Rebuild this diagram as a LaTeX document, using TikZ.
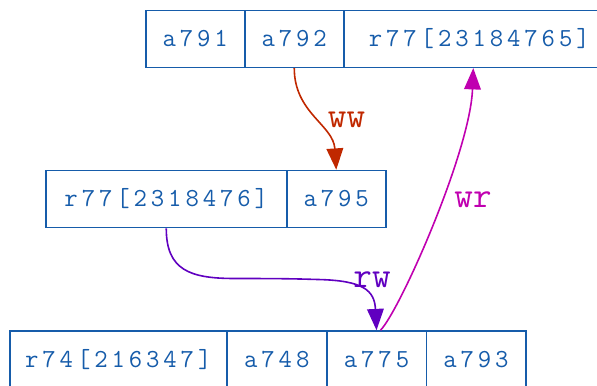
\documentclass[tikz,border=0pt]{standalone}
\usepackage{fontspec}
\usetikzlibrary{arrows.meta}
\newfontfamily\recfont[LetterSpace=15]{Latin Modern Mono}
\newfontfamily\lblfont{Latin Modern Mono}
\definecolor{recblue}{RGB}{22,92,170}
\definecolor{wwcol}{RGB}{192,40,0}
\definecolor{wrcol}{RGB}{192,0,176}
\definecolor{rwcol}{RGB}{96,0,192}
\tikzset{
  field/.style={draw=recblue, line width=1.15pt, anchor=west, inner sep=0pt,
    minimum height=42.75pt, minimum width=#1*0.75pt,
    text=recblue, font=\recfont\fontsize{19.5pt}{21pt}\selectfont,
    text height=11.5pt, text depth=0pt},
  dep/.style={line width=1.2pt, draw=#1,
    -{Triangle[length=16pt,width=12.5pt,fill=#1]}},
  lbl/.style={anchor=base, inner sep=0pt, text=#1,
    font=\lblfont\fontsize{27pt}{29pt}\selectfont}
}
\begin{document}
\begin{tikzpicture}[x=0.75pt,y=-0.75pt]
\useasboundingbox (0,0) rectangle (597,386);

% upper record
\node[field=99]  (f791) at (145,38.8) {a791};
\node[field=99]  (f792) at (244,38.8) {a792};
\node[field=271] (f77a) at (343,38.8) {r77[23184765]};

% middle record
\node[field=241] (f77b) at (45,199) {r77[2318476]};
\node[field=99]  (f795) at (286,199) {a795};

% lower record
\node[field=217]  (f74)  at (9,359.5)     {r74[216347]};
\node[field=100]  (f748) at (226,359.5)   {a748};
\node[field=99.5] (f775) at (326,359.5)   {a775};
\node[field=99.5] (f793) at (425.5,359.5) {a793};

% dependencies
\draw[dep=wwcol] (f792.south) .. controls +(0,45) and +(-3,-45) .. (f795.north);
\draw[dep=rwcol] (f77b.south) .. controls +(0,42) and +(-45,0) .. (235,278.5)
  .. controls (290,278.5) and (300,279) .. (318,279.5)
  .. controls +(45,1) and +(-2,-40) .. (f775.north);
\draw[dep=wrcol] ([xshift=3pt]f775.north) .. controls +(20,-21) and +(-3,83) .. ([xshift=-4.5pt]f77a.south);

\node[lbl=wwcol] (lww) at (346.5,127) {ww};
\node[lbl=wrcol] (lwr) at (473,207) {wr};
\node[lbl=rwcol] (lrw) at (372,287) {rw};
\end{tikzpicture}
\end{document}
